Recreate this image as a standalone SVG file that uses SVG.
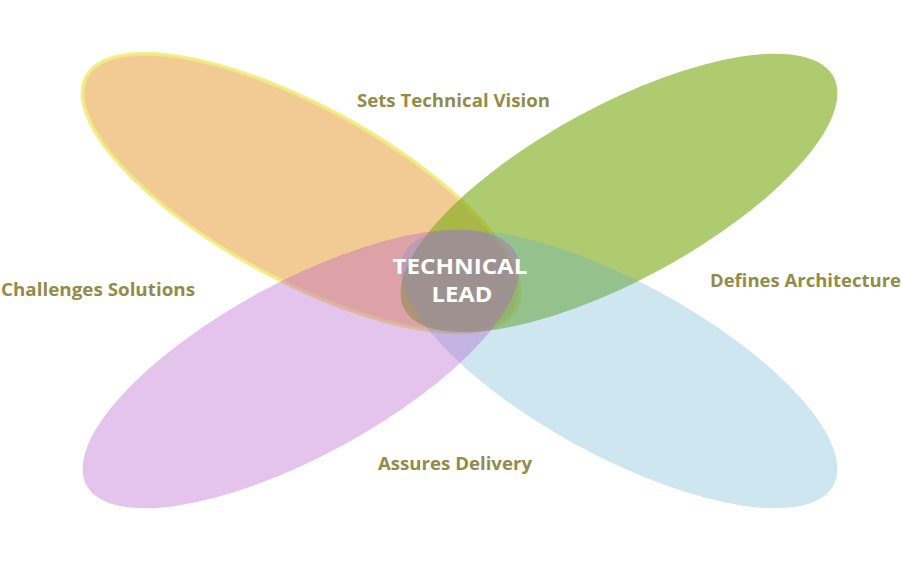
<svg xmlns="http://www.w3.org/2000/svg" width="903" height="563" viewBox="0 0 903 563">
  <style>
    .label { font-family: "Open Sans", "Liberation Sans", sans-serif; font-weight: 700; font-size: 17px; fill: #938c48; text-anchor: middle; }
    .core { font-family: "Open Sans", "Liberation Sans", sans-serif; font-weight: 700; font-size: 21px; fill: #ffffff; text-anchor: middle; }
  </style>
  <defs>
    <ellipse id="petal" cx="0" cy="0" rx="244" ry="87"/>
  </defs>
  <rect width="903" height="563" fill="#ffffff"/>

  <!-- four overlapping translucent petals, stacked orange, green, blue, purple -->
  <g id="petal-vision">
    <use href="#petal" transform="translate(301 193) rotate(28.5)" fill="#e28b11" opacity="0.45"/>
    <use href="#petal" transform="translate(301 193) rotate(28.5)" fill="none" stroke="#f1ec7e" stroke-width="4" opacity="0.85"/>
  </g>
  <g id="petal-architecture">
    <use href="#petal" transform="translate(619 193) rotate(-28.5)" fill="#7aa811" opacity="0.6"/>
  </g>
  <g id="petal-delivery">
    <use href="#petal" transform="translate(619 369) rotate(28.5)" fill="#58accd" opacity="0.3"/>
  </g>
  <g id="petal-solutions">
    <use href="#petal" transform="translate(301 369) rotate(-28.5)" fill="#b559c9" opacity="0.36"/>
  </g>

  <!-- centre node -->
  <g id="technical-lead">
    <text class="core" x="460" y="274" textLength="135" lengthAdjust="spacingAndGlyphs">TECHNICAL</text>
    <text class="core" x="462" y="302" textLength="61" lengthAdjust="spacingAndGlyphs">LEAD</text>
  </g>

  <g id="connectors"></g>

  <!-- role labels -->
  <g id="label-vision"><text class="label" x="453.5" y="107" textLength="193" lengthAdjust="spacingAndGlyphs">Sets Technical Vision</text></g>
  <g id="label-architecture"><text class="label" x="805.5" y="287" textLength="191" lengthAdjust="spacingAndGlyphs">Defines Architecture</text></g>
  <g id="label-solutions"><text class="label" x="98" y="296" textLength="194" lengthAdjust="spacingAndGlyphs">Challenges Solutions</text></g>
  <g id="label-delivery"><text class="label" x="455" y="470" textLength="154" lengthAdjust="spacingAndGlyphs">Assures Delivery</text></g>
</svg>
